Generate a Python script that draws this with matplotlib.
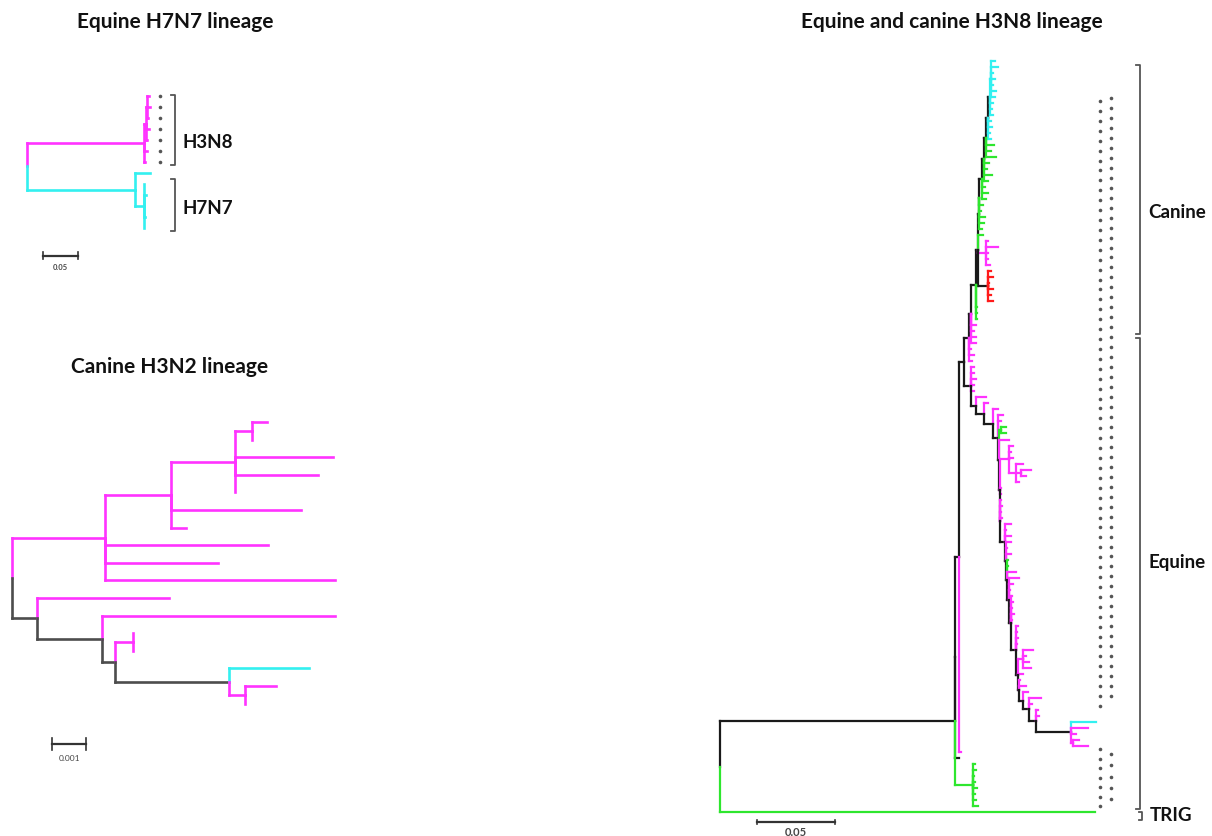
import matplotlib
matplotlib.use("Agg")
import matplotlib.pyplot as plt
from matplotlib.collections import LineCollection
import numpy as np

plt.rcParams['font.family'] = ['Lato', 'DejaVu Sans']

# ====== DATA: trees in Newick, label = branch colour code ======
# Equine H7N7 lineage, branch lengths x 1e-3 subs/site
H7N7_M2 = "(m:2.9,m:4.3,m:1.4)m"
H7N7_M1 = f"({H7N7_M2}:2.2,m:5.1,m:2.2)m"
H7N7_M = f"({H7N7_M1}:2.2,m:4.3,m:1.4)m"
H7N7_C2 = "(c:0.7,c:2.9,c:0.7,c:1.4,c:0.7)c"
H7N7_C = f"(c:21.7,{H7N7_C2}:13)c"
H7N7_TREE = f"({H7N7_M}:169.6,{H7N7_C}:156.5);"

# Canine H3N2 lineage, branch lengths x 1e-4 subs/site
H3N2_D = "(m:4.4,m:0.1)m"
H3N2_C = f"({H3N2_D}:5.0,m:28.8,m:24.4,m:0.1)m"
H3N2_B = f"({H3N2_C}:18.8,m:38.2,m:4.4)m"
H3N2_A = f"({H3N2_B}:19.4,m:47.9,m:33.2,m:67.6)m"
H3N2_J = "(m:9.1,m:0.1)m"
H3N2_I = f"(c:23.5,{H3N2_J}:4.7)d"
H3N2_H = "(m:0.1,m:0.1)m"
H3N2_G = f"({H3N2_H}:5.3,{H3N2_I}:33.5)d"
H3N2_F = f"(m:68.5,{H3N2_G}:3.8)d"
H3N2_E = f"(m:38.8,{H3N2_F}:19.1)d"
H3N2_TREE = f"({H3N2_A}:27.4,{H3N2_E}:7.4);"

# Equine and canine H3N8 lineage, branch lengths x 1e-3 subs/site
# canine part
CAN_CY = "(c:2.6,c:4.5,c:1.9,c:3.2,c:1.3,c:3.8,c:2.6)c"
CAN_1 = f"({CAN_CY}:0.6,c:1.9,c:1.3,c:1.9)k"
CAN_2 = f"({CAN_1}:1.0,c:1.9,c:2.6,c:1.3,c:1.9)k"
CAN_3 = f"({CAN_2}:1.0,g:5.1,g:3.2,g:6.4)k"
CAN_4 = f"({CAN_3}:1.3,g:3.2,g:1.9,g:5.1,g:2.6)k"
CAN_5 = f"({CAN_4}:1.3,g:1.9,g:3.8,g:2.6)k"
CAN_6 = f"({CAN_5}:1.9,g:2.6,g:1.3,g:3.8)k"
CAN_7 = f"({CAN_6}:0.3,g:3.2,g:1.9)k"
CAN_MG = "(m:1.3,m:8.3,m:1.9,m:1.3,m:2.6)m"
CAN_RD = "(r:1.9,r:3.2,r:0.6,r:2.6,r:1.3,r:3.2)k"
CAN_8 = f"({CAN_7}:0.3,g:3.2,{CAN_MG}:4.5,{CAN_RD}:6.4)k"
CAN_9 = f"({CAN_8}:1.3,g:0.6,g:0.6,g:0.6)k"
CAN_10 = f"({CAN_9}:3.2,m:2.6,m:1.9,m:3.2,m:2.6)k"
CANINE = f"({CAN_10}:1.3,m:1.3,m:2.6,m:1.9)k"
# equine part
EQ_TC = "(c:16,m:10.9,m:3.2,(m:3.8,m:9.6)m:1.3)k"
EQ_19 = f"(m:1.3,m:1.9,{EQ_TC}:22.4)k"
EQ_18 = f"(m:7.7,m:1.9,{EQ_19}:4.5)k"
EQ_17 = f"(m:3.2,{EQ_18}:3.8)k"
EQ_16 = f"(m:0.6,m:4.8,{EQ_17}:2.9)k"
EQ_MC4 = "(m:6.4,m:1.9,m:3.8,m:5.1)m"
EQ_15 = f"({EQ_MC4}:3.2,m:3.2,{EQ_16}:0.3)k"
EQ_14 = f"(m:1.3,m:0.6,m:1.3,m:0.6,{EQ_15}:1.3)k"
EQ_13 = f"(m:0.6,m:1.3,m:0.6,m:1.9,m:0.6,{EQ_14}:3.2)k"
EQ_12 = f"(m:6.4,m:2.6,m:0.6,{EQ_13}:1.3)k"
EQ_11 = f"(g:0.6,g:0.6,m:5.8,{EQ_12}:1.3)k"
EQ_10 = f"(m:3.5,m:0.6,m:3.5,{EQ_11}:1.0)k"
EQ_9 = f"(m:3.8,m:0.6,m:3.8,{EQ_10}:0.3)k"
EQ_8 = f"(m:0.6,m:1.3,m:0.6,m:1.3,{EQ_9}:3.2)k"
EQ_MC1 = "(m:2.6,m:1.3,m:2.6,(m:4.5,(m:6.4,m:3.2)m:3.2,m:1.9)m:4.5)m"
EQ_7 = f"({EQ_MC1}:6.1,m:0.6,m:0.6,{EQ_8}:0.3)k"
EQ_6 = f"((g:3.2,g:3.2)g:1.3,m:6.4,{EQ_7}:0.3)k"
EQ_5 = f"(m:3.2,m:1.9,{EQ_6}:0.6)k"
EQ_4 = f"(m:2.6,{EQ_5}:3.2)k"
EQ_3 = f"(m:2.6,{EQ_4}:5.8)k"
EQ_2 = f"(m:6.4,{EQ_3}:5.1)k"
EQUINE = f"(m:1.9,m:1.3,m:2.6,m:1.9,m:1.3,{EQ_2}:3.2)k"
# backbone and TRIG outgroup
H3N8_K = f"({CANINE}:3.8,{EQUINE}:5.1)k"
H3N8_B = f"({H3N8_K}:2.6,m:1.3)k"
H3N8_A = f"({H3N8_B}:2.6,k:2.6)k"
H3N8_GC = "(g:1.3,g:1.9,g:0.6,g:1.3,g:2.6,g:1.3,g:1.9,g:3.2)g"
H3N8_N1 = f"({H3N8_A}:0.3,{H3N8_GC}:11.5)k"
H3N8_TREE = f"({H3N8_N1}:150.6,g:240.4);"

COLORS = {'m': '#ff33ff', 'c': '#33f0f0', 'g': '#2ee62e',
          'r': '#ff1a1a', 'k': '#1a1a1a', 'd': '#4d4d4d'}

W, H = 1212, 837


# ====== TREE HELPERS ======
def parse_newick(text):
    s = text.replace(" ", "").rstrip(";")
    pos = 0

    def node():
        nonlocal pos
        kids = []
        if s[pos] == '(':
            pos += 1
            kids.append(node())
            while s[pos] == ',':
                pos += 1
                kids.append(node())
            pos += 1
        start = pos
        while pos < len(s) and s[pos] not in ':,)':
            pos += 1
        label = s[start:pos]
        length = 0.0
        if pos < len(s) and s[pos] == ':':
            pos += 1
            start = pos
            while pos < len(s) and s[pos] not in ',)':
                pos += 1
            length = float(s[start:pos])
        return {'kids': kids, 'col': label or 'k', 'len': length}

    return node()


def place(node, x0, leaves):
    node['x'] = x0 + node['len']
    if node['kids']:
        for kid in node['kids']:
            place(kid, node['x'], leaves)
        node['y'] = (node['kids'][0]['y'] + node['kids'][-1]['y']) / 2
    else:
        node['y'] = len(leaves)
        leaves.append(node)


def segments(node, segs, cols):
    for kid in node['kids']:
        col = COLORS[kid['col']]
        segs.append([(node['x'], node['y']), (node['x'], kid['y'])])
        cols.append(col)
        segs.append([(node['x'], kid['y']), (kid['x'], kid['y'])])
        cols.append(col)
        segments(kid, segs, cols)


def tree_axes(root_px, leaf0_px, px_per_unit, px_per_leaf):
    ax = fig.add_axes([0, 0, 1, 1])
    ax.set_xlim(-root_px / px_per_unit, (W - root_px) / px_per_unit)
    ax.set_ylim((H - leaf0_px) / px_per_leaf, -leaf0_px / px_per_leaf)
    ax.axis('off')
    return ax


def draw_tree(ax, newick, lw):
    root = parse_newick(newick)
    leaves = []
    place(root, 0.0, leaves)
    segs, cols = [], []
    segments(root, segs, cols)
    ax.add_collection(LineCollection(segs, colors=cols, linewidths=lw,
                                     capstyle='projecting'))
    return root, leaves


def scale_bar(ax, x0, y, length, label, fs, dy, bold=False):
    tick = 0.35
    ax.plot([x0, x0 + length], [y, y], color='#333333', lw=1.6)
    ax.plot([x0, x0], [y - tick, y + tick], color='#333333', lw=1.2)
    ax.plot([x0 + length, x0 + length], [y - tick, y + tick], color='#333333', lw=1.2)
    ax.text(x0 + length / 2, y + dy, label, ha='center', va='center',
            fontsize=fs, color='#444444', fontweight='bold' if bold else 'normal')


fig = plt.figure(figsize=(W / 100, H / 100), dpi=100)

# ====== Equine H7N7 lineage ======
ax1 = tree_axes(27, 97, 0.69, 11)
_, leaves1 = draw_tree(ax1, H7N7_TREE, 1.9)
mag1 = [lf['y'] for lf in leaves1 if lf['col'] == 'm']
ax1.plot([192.8] * len(mag1), mag1, 'o', color='#555555', ms=2.6, mew=0)
scale_bar(ax1, 23.2, 14.5, 50, "0.05", 5.5, 1.0, bold=True)

# ====== Canine H3N2 lineage ======
ax2 = tree_axes(12, 423, 3.4, 17.6)
draw_tree(ax2, H3N2_TREE, 1.9)
scale_bar(ax2, 11.8, 18.3, 10, "0.001", 6, 0.75)

# ====== Equine and canine H3N8 lineage ======
ax3 = tree_axes(720, 62, 1.56, 6.008)
draw_tree(ax3, H3N8_TREE, 1.6)
scale_bar(ax3, 23.7, 126.7, 50, "0.05", 8, 1.6, bold=True)

# ====== decorations in pixel space ======
deco = fig.add_axes([0, 0, 1, 1])
deco.set_xlim(0, W)
deco.set_ylim(H, 0)
deco.axis('off')

# placeholder dots for taxon names
dot_kw = dict(color='#555555', ms=2.6, mew=0, ls='none', marker='o')
deco.plot([1100] * 62, np.linspace(102, 707, 62), **dot_kw)
deco.plot([1111] * 61, np.linspace(99, 697, 61), **dot_kw)
deco.plot([1100] * 7, np.linspace(750, 807, 7), **dot_kw)
deco.plot([1111] * 5, np.linspace(755, 800, 5), **dot_kw)


def bracket(x, y0, y1, hook=4, lw=1.3):
    deco.plot([x - hook, x, x, x - hook], [y0, y0, y1, y1], color='#555555', lw=lw)


bracket(175, 96, 166)
bracket(175, 180, 232)
bracket(1140, 66, 335)
bracket(1140, 339, 810)
bracket(1142, 813, 821, hook=3)

title_kw = dict(ha='center', va='center', fontsize=15, fontweight='bold', color='#111111')
fig.text(175 / W, 1 - 22 / H, "Equine H7N7 lineage", **title_kw)
fig.text(170 / W, 1 - 367 / H, "Canine H3N2 lineage", **title_kw)
fig.text(952 / W, 1 - 22 / H, "Equine and canine H3N8 lineage", **title_kw)

lab_kw = dict(ha='left', va='center', fontsize=13.5, fontweight='bold', color='#111111')
fig.text(182 / W, 1 - 143 / H, "H3N8", **lab_kw)
fig.text(182 / W, 1 - 208 / H, "H7N7", **lab_kw)
fig.text(1148 / W, 1 - 212 / H, "Canine", **lab_kw)
fig.text(1148 / W, 1 - 563 / H, "Equine", **lab_kw)
fig.text(1150 / W, 1 - 816 / H, "TRIG", **lab_kw)

fig.savefig("out.png", dpi=100)
